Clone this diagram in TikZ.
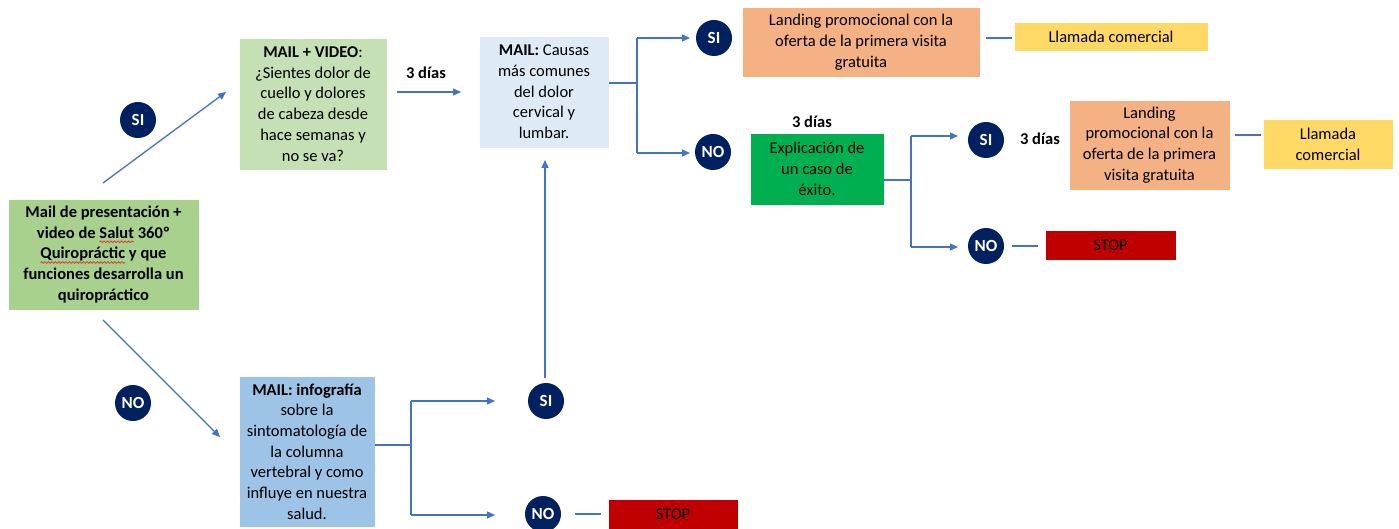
\documentclass[tikz,border=0pt]{standalone}
\usepackage{fontspec}
\setmainfont{Carlito}
\usetikzlibrary{arrows.meta,decorations.pathmorphing}
\definecolor{arrowblue}{HTML}{4472C4}
\definecolor{navy}{HTML}{002060}
\definecolor{gstart}{HTML}{A9D18E}
\definecolor{gvideo}{HTML}{C5E0B4}
\definecolor{bcausas}{HTML}{DEEBF7}
\definecolor{binfo}{HTML}{9DC3E6}
\definecolor{orangebox}{HTML}{F4B183}
\definecolor{yellowbox}{HTML}{FFD966}
\definecolor{greenbox}{HTML}{00B050}
\definecolor{redbox}{HTML}{C00000}
\definecolor{spell}{HTML}{E03030}
\newsavebox\spellbox
\newcommand\spellwave[1]{\sbox\spellbox{#1}\leavevmode\rlap{\tikz[baseline=0pt,x=1pt,y=1pt]{\path[use as bounding box] (0,0) rectangle (1,1);\draw[spell,line width=0.7pt,decorate,decoration={snake,amplitude=0.9pt,segment length=3.5pt}] (0,-3.5) -- (\wd\spellbox,-3.5);}}\usebox\spellbox}
\tikzset{
  box/.style={draw=white, line width=0.8pt, align=center, inner sep=2pt,
    font=\fontsize{16.5}{20.7}\selectfont},
  yn/.style={circle, fill=navy, text=white, minimum size=36pt, inner sep=0pt,
    font=\fontsize{17}{18}\selectfont\bfseries},
  conn/.style={draw=arrowblue, line width=1.3pt},
  arr/.style={conn, -{Triangle[length=8pt,width=7pt]}},
  lbl/.style={font=\fontsize{16.5}{18}\selectfont\bfseries},
}
\begin{document}
\begin{tikzpicture}[x=1pt,y=-1pt]
\useasboundingbox (0,0) rectangle (1399,529);

% boxes
\node[box, fill=gstart, minimum width=191pt, minimum height=111pt, font=\fontsize{16.5}{20.7}\selectfont\bfseries] (start) at (103.5,254.5)
  {Mail de presentación +\\video de \spellwave{Salut} 360º\\\spellwave{Quiropráctic} y que\\funciones desarrolla un\\quiropráctico};
\node[box, fill=gvideo, minimum width=148pt, minimum height=132pt] (video) at (313,104)
  {\textbf{MAIL + VIDEO}:\\¿Sientes dolor de\\cuello y dolores\\de cabeza desde\\hace semanas y\\no se va?};
\node[box, fill=bcausas, minimum width=130pt, minimum height=112pt] (causas) at (544,92)
  {\textbf{MAIL:} Causas\\más comunes\\del dolor\\cervical y\\lumbar.};
\node[box, fill=orangebox, minimum width=238pt, minimum height=70pt] (land1) at (861,42)
  {Landing promocional con la\\oferta de la primera visita\\gratuita};
\node[box, fill=yellowbox, minimum width=194pt, minimum height=29pt] (llam1) at (1111,36.5)
  {Llamada comercial};
\node[box, fill=greenbox, minimum width=134pt, minimum height=72pt] (expl) at (817,169)
  {Explicación de\\un caso de\\éxito.};
\node[box, fill=orangebox, minimum width=161pt, minimum height=90pt] (land2) at (1149.5,145)
  {Landing\\promocional con la\\oferta de la primera\\visita gratuita};
\node[box, fill=yellowbox, minimum width=130pt, minimum height=50pt] (llam2) at (1328,144)
  {Llamada\\comercial};
\node[box, fill=redbox, minimum width=131pt, minimum height=30pt] (stop1) at (1110.5,245)
  {STOP};
\node[box, fill=binfo, minimum width=136pt, minimum height=151pt] (info) at (307,451.5)
  {\textbf{MAIL: infografía}\\sobre la\\sintomatología de\\la columna\\vertebral y como\\influye en nuestra\\salud.};
\node[box, fill=redbox, minimum width=130pt, minimum height=30pt] (stop2) at (673,514)
  {STOP};

% yes/no circles
\node[yn] (si1) at (138,120) {SI};
\node[yn] (no1) at (133,403) {NO};
\node[yn] (si2) at (714,38) {SI};
\node[yn] (no2) at (713,152) {NO};
\node[yn] (si3) at (986,140) {SI};
\node[yn] (no3) at (986,246) {NO};
\node[yn] (si4) at (546,401) {SI};
\node[yn] (no4) at (543,514) {NO};

% labels
\node[lbl] (d1) at (426,73) {3 días};
\node[lbl] (d2) at (812,122) {3 días};
\node[lbl] (d3) at (1040,139) {3 días};

% connectors from start
\coordinate (sUp) at (103,183);
\coordinate (sUpEnd) at (226,92);
\coordinate (sDn) at (103,320);
\coordinate (sDnEnd) at (220,437);
\draw[arr] (sUp) -- (sUpEnd);
\draw[arr] (sDn) -- (sDnEnd);

% video -> causas
\coordinate (vA) at (397,92);
\coordinate (vB) at (461,92);
\draw[arr] (vA) -- (vB);

% causas branch
\coordinate (cJ) at (637,83);
\draw[conn] (causas.east |- cJ) -- (cJ);
\coordinate (cT) at (637,38);
\coordinate (cB) at (637,153);
\draw[conn] (cT) -- (cB);
\coordinate (cTe) at (690,38);
\coordinate (cBe) at (690,153);
\draw[arr] (cT) -- (cTe);
\draw[arr] (cB) -- (cBe);

% landing1 -> llamada1
\coordinate (l1a) at (986,38);
\coordinate (l1b) at (1012,38);
\draw[conn] (l1a) -- (l1b);

% explicacion branch
\coordinate (eJ) at (911,180);
\draw[conn] (expl.east |- eJ) -- (eJ);
\coordinate (eT) at (911,136);
\coordinate (eB) at (911,247);
\draw[conn] (eT) -- (eB);
\coordinate (eTe) at (958,136);
\coordinate (eBe) at (958,247);
\draw[arr] (eT) -- (eTe);
\draw[arr] (eB) -- (eBe);

% landing2 -> llamada2
\coordinate (l2a) at (1235,135);
\coordinate (l2b) at (1261,135);
\draw[conn] (l2a) -- (l2b);

% no3 -> stop1
\coordinate (n3a) at (1012,246);
\coordinate (n3b) at (1038,246);
\draw[conn] (n3a) -- (n3b);

% infografia branch
\coordinate (iJ) at (411,445);
\draw[conn] (info.east |- iJ) -- (iJ);
\coordinate (iT) at (411,401);
\coordinate (iB) at (411,515);
\draw[conn] (iT) -- (iB);
\coordinate (iTe) at (495,401);
\coordinate (iBe) at (495,515);
\draw[arr] (iT) -- (iTe);
\draw[arr] (iB) -- (iBe);

% si4 -> causas
\coordinate (s4a) at (545,378);
\coordinate (s4b) at (545,160);
\draw[arr] (s4a) -- (s4b);

% no4 -> stop2
\coordinate (n4a) at (575,514);
\coordinate (n4b) at (601,514);
\draw[conn] (n4a) -- (n4b);
\end{tikzpicture}
\end{document}
